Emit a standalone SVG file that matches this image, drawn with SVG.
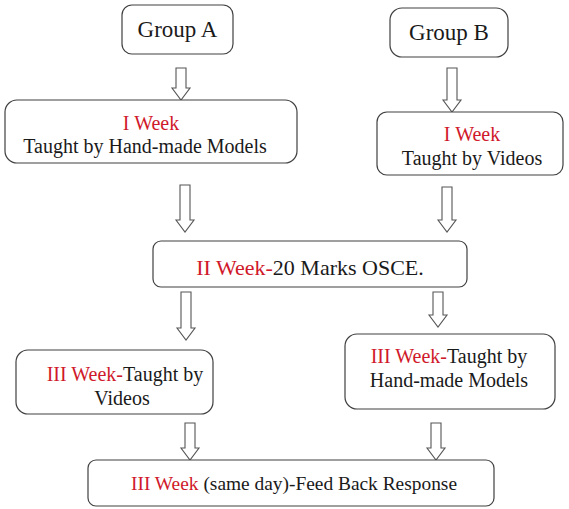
<svg xmlns="http://www.w3.org/2000/svg" width="569" height="509" viewBox="0 0 569 509">
<style>
.box{fill:#fff;stroke:#404040;stroke-width:1.2}
.t{font-family:"Liberation Serif","Times New Roman",serif;font-size:20px;fill:#1a1a1a;text-anchor:middle}
.g{font-size:23px}
.w{font-size:22px}
.f{font-size:19.4px}
.r{fill:#d0192b}
.arr{fill:#fff;stroke:#555;stroke-width:1.1}
</style>
<rect width="569" height="509" fill="#fff"/>
<g id="connectors">
<path class="arr" d="M176,68 H186 V88 H190 L181,100 L172,88 H176 Z"/>
<path class="arr" d="M447,68 H457 V100 H461 L452,112 L443,100 H447 Z"/>
<path class="arr" d="M180,185 H190 V220 H194 L185,232 L176,220 H180 Z"/>
<path class="arr" d="M442,187 H452 V220 H456 L447,232 L438,220 H442 Z"/>
<path class="arr" d="M181,292 H191 V328 H195 L186,340 L177,328 H181 Z"/>
<path class="arr" d="M433,292 H443 V315 H447 L438,327 L429,315 H433 Z"/>
<path class="arr" d="M185,423 H195 V448 H199 L190,460 L181,448 H185 Z"/>
<path class="arr" d="M431,423 H441 V448 H445 L436,460 L427,448 H431 Z"/>
</g>
<g id="groupA">
<rect class="box" x="122" y="5" width="111" height="49" rx="10"/>
<text class="t g" x="177.5" y="37">Group A</text>
</g>
<g id="groupB">
<rect class="box" x="390" y="8" width="118" height="49" rx="12"/>
<text class="t g" x="449" y="40">Group B</text>
</g>
<g id="a1">
<rect class="box" x="5" y="100" width="292" height="63" rx="12"/>
<text class="t" x="151" y="130"><tspan class="r">I Week</tspan></text>
<text class="t" x="145" y="153">Taught by Hand-made Models</text>
</g>
<g id="b1">
<rect class="box" x="377" y="112" width="186" height="63" rx="10"/>
<text class="t" x="472" y="141"><tspan class="r">I Week</tspan></text>
<text class="t" x="472" y="165">Taught by Videos</text>
</g>
<g id="w2">
<rect class="box" x="153" y="241" width="314" height="46" rx="8"/>
<text class="t w" x="310" y="275"><tspan class="r">II Week-</tspan>20 Marks OSCE.</text>
</g>
<g id="a3">
<rect class="box" x="16" y="350" width="197" height="64" rx="12"/>
<text class="t" x="125" y="381"><tspan class="r">III Week-</tspan>Taught by</text>
<text class="t" x="122" y="405">Videos</text>
</g>
<g id="b3">
<rect class="box" x="345" y="334" width="210" height="75" rx="12"/>
<text class="t" x="449" y="363"><tspan class="r">III Week-</tspan>Taught by</text>
<text class="t" x="449" y="387">Hand-made Models</text>
</g>
<g id="final">
<rect class="box" x="88" y="460" width="406" height="46" rx="8"/>
<text class="t f" x="294" y="490"><tspan class="r">III Week</tspan> (same day)-Feed Back Response</text>
</g>
</svg>
